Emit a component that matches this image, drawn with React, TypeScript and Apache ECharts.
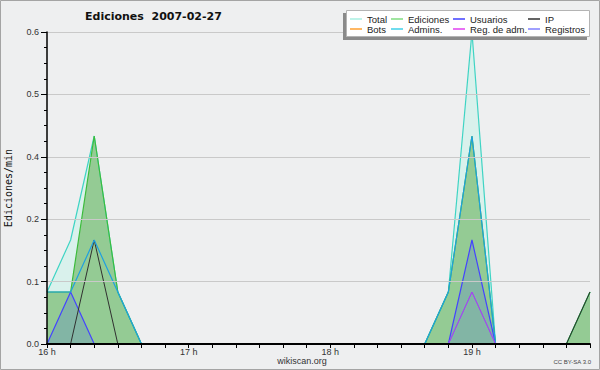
import React, { useEffect, useRef } from 'react';
import * as echarts from 'echarts';

const categories = [
  '16:00', '16:10', '16:20', '16:30', '16:40', '16:50',
  '17:00', '17:10', '17:20', '17:30', '17:40', '17:50',
  '18:00', '18:10', '18:20', '18:30', '18:40', '18:50',
  '19:00', '19:10', '19:20', '19:30', '19:40', '19:50',
];

const total = [0.1, 0.2, 0.4, 0.1, 0, 0, 0, 0, 0, 0, 0, 0, 0, 0, 0, 0, 0, 0.1, 0.6, 0, 0, 0, 0, 0.1];
const ediciones = [0.1, 0.1, 0.4, 0.1, 0, 0, 0, 0, 0, 0, 0, 0, 0, 0, 0, 0, 0, 0.1, 0.4, 0, 0, 0, 0, 0.1];
const usuarios = [0, 0.1, 0, 0, 0, 0, 0, 0, 0, 0, 0, 0, 0, 0, 0, 0, 0, 0, 0.2, 0, 0, 0, 0, 0];
const ip = [0, 0, 0.2, 0, 0, 0, 0, 0, 0, 0, 0, 0, 0, 0, 0, 0, 0, 0, 0, 0, 0, 0, 0, 0.1];
const bots = [0, 0, 0, 0, 0, 0, 0, 0, 0, 0, 0, 0, 0, 0, 0, 0, 0, 0, 0, 0, 0, 0, 0, 0];
const admins = [0.1, 0.1, 0.2, 0.1, 0, 0, 0, 0, 0, 0, 0, 0, 0, 0, 0, 0, 0, 0.1, 0.4, 0, 0, 0, 0, 0];
const regAdm = [0, 0, 0, 0, 0, 0, 0, 0, 0, 0, 0, 0, 0, 0, 0, 0, 0, 0, 0.1, 0, 0, 0, 0, 0];
const registros = [0, 0, 0, 0, 0, 0, 0, 0, 0, 0, 0, 0, 0, 0, 0, 0, 0, 0, 0.1, 0, 0, 0, 0, 0];

const yMin = 0;
const yMax = 0.6;
const yInterval = 0.12;

const TITLE = 'Ediciones  2007-02-27';
const Y_NAME = 'Ediciones/min';
const SOURCE = 'wikiscan.org';
const LICENSE = 'CC BY-SA 3.0';

const SANS = '"Liberation Sans", Arial, sans-serif';

export default function App() {
  const ref = useRef<HTMLDivElement>(null);

  useEffect(() => {
    if (!ref.current) return;
    const chart = echarts.init(ref.current, undefined, { renderer: 'svg' });

    const lineBase = {
      type: 'line' as const,
      showSymbol: false,
      symbol: 'none',
      silent: true,
      animation: false,
    };

    const legendCommon = {
      orient: 'vertical' as const,
      top: 14,
      padding: 0,
      itemGap: 0,
      itemWidth: 12,
      itemHeight: 1.5,
      icon: 'rect',
      selectedMode: false,
      z: 120,
      textStyle: { fontFamily: SANS, fontSize: 9.5, color: '#222', lineHeight: 10 },
    };

    const option: any = {
      animation: false,
      backgroundColor: '#eeeff0',
      title: {
        text: TITLE,
        left: 85,
        top: 11,
        padding: 0,
        textStyle: { fontFamily: '"DejaVu Sans", sans-serif', fontSize: 11, fontWeight: 'bold', color: '#111' },
      },
      grid: { left: 47, right: 10, top: 32, bottom: 26, containLabel: false, outerBoundsMode: 'none' },
      legend: [
        {
          ...legendCommon,
          left: 350,
          data: [
            { name: 'Total', itemStyle: { color: '#a8efe2' } },
            { name: 'Bots', itemStyle: { color: '#ffa030' } },
          ],
        },
        {
          ...legendCommon,
          left: 391,
          data: [
            { name: 'Ediciones', itemStyle: { color: '#80dc80' } },
            { name: 'Admins.', itemStyle: { color: '#40d0e8' } },
          ],
        },
        {
          ...legendCommon,
          left: 453,
          data: [
            { name: 'Usuarios', itemStyle: { color: '#4040ff' } },
            { name: 'Reg. de adm.', itemStyle: { color: '#e040f0' } },
          ],
        },
        {
          ...legendCommon,
          left: 528,
          data: [
            { name: 'IP', itemStyle: { color: '#303030' } },
            { name: 'Registros', itemStyle: { color: '#8080ff' } },
          ],
        },
      ],
      xAxis: {
        type: 'category',
        data: categories,
        boundaryGap: false,
        z: 10,
        axisLine: { show: true, lineStyle: { color: '#000', width: 2 } },
        axisTick: { show: true, interval: 0, length: 4, lineStyle: { color: '#000', width: 1 } },
        axisLabel: {
          interval: 0,
          margin: 3,
          fontFamily: SANS,
          fontSize: 9,
          color: '#333',
          formatter: (v: string) => (v.endsWith(':00') ? v.slice(0, 2) + ' h' : ''),
        },
        splitLine: { show: false },
      },
      yAxis: {
        type: 'value',
        min: yMin,
        max: yMax,
        interval: yInterval,
        z: 10,
        name: Y_NAME,
        nameLocation: 'middle',
        nameGap: 34,
        nameTextStyle: { fontFamily: '"DejaVu Sans Mono", monospace', fontSize: 10, color: '#111' },
        axisLine: { show: true, lineStyle: { color: '#000', width: 1.5 } },
        axisTick: { show: true, length: 6, lineStyle: { color: '#000' } },
        minorTick: { show: true, splitNumber: 4, length: 3, lineStyle: { color: '#000' } },
        axisLabel: {
          margin: 8,
          fontFamily: SANS,
          fontSize: 9,
          color: '#333',
          formatter: (v: number) => v.toFixed(1),
        },
        splitLine: { show: true, lineStyle: { color: '#c9c9c9', width: 1 } },
      },
      series: [
        {
          ...lineBase,
          name: 'Total',
          data: total,
          color: '#3fd4c4',
          lineStyle: { color: '#3fd4c4', width: 1.2 },
          areaStyle: { color: '#d9f1ec', opacity: 1 },
        },
        {
          ...lineBase,
          name: 'Ediciones',
          data: ediciones,
          color: '#3cbc3c',
          lineStyle: { color: '#3cbc3c', width: 1.2 },
          areaStyle: { color: '#94cb94', opacity: 1 },
        },
        {
          ...lineBase,
          name: 'Usuarios',
          data: usuarios,
          color: '#4444ff',
          lineStyle: { color: '#4444ff', width: 1.2 },
          areaStyle: { color: 'rgba(40,70,255,0.16)', opacity: 1 },
        },
        {
          ...lineBase,
          name: 'IP',
          data: ip,
          color: '#303030',
          lineStyle: { color: '#303030', width: 1 },
        },
        {
          ...lineBase,
          name: 'Bots',
          data: bots,
          color: '#ffa030',
          lineStyle: { color: '#ffa030', width: 1 },
        },
        {
          ...lineBase,
          name: 'Admins.',
          data: admins,
          color: '#1fa0e0',
          lineStyle: { color: '#1fa0e0', width: 1.2 },
        },
        {
          ...lineBase,
          name: 'Registros',
          data: registros,
          color: '#7070ff',
          lineStyle: { color: '#7070ff', width: 1 },
        },
        {
          ...lineBase,
          name: 'Reg. de adm.',
          data: regAdm,
          color: '#b040e8',
          lineStyle: { color: '#b040e8', width: 1 },
        },
      ],
      graphic: [
        {
          type: 'rect',
          z: 200,
          silent: true,
          shape: { x: 0.5, y: 0.5, width: 599, height: 369 },
          style: { fill: 'none', stroke: '#a4a4a4', lineWidth: 1 },
        },
        {
          type: 'rect',
          z: 100,
          silent: true,
          shape: { x: 343, y: 13, width: 244, height: 27 },
          style: { fill: '#8a8a8a' },
        },
        {
          type: 'rect',
          z: 101,
          silent: true,
          shape: { x: 346.5, y: 10.5, width: 243, height: 26 },
          style: { fill: '#ffffff', stroke: '#b4b4b4', lineWidth: 1 },
        },
        {
          type: 'text',
          z: 100,
          silent: true,
          x: 302,
          y: 361,
          style: {
            text: SOURCE,
            fontFamily: SANS,
            fontSize: 9,
            fill: '#333',
            align: 'center',
            verticalAlign: 'middle',
          },
        },
        {
          type: 'text',
          z: 100,
          silent: true,
          x: 591,
          y: 362,
          style: {
            text: LICENSE,
            fontFamily: SANS,
            fontSize: 6,
            fill: '#444',
            align: 'right',
            verticalAlign: 'middle',
          },
        },
      ],
    };

    chart.setOption(option);
    return () => chart.dispose();
  }, []);

  return (
    <div
      ref={ref}
      style={{ position: 'absolute', left: 0, top: 0, width: 600, height: 370 }}
    />
  );
}
